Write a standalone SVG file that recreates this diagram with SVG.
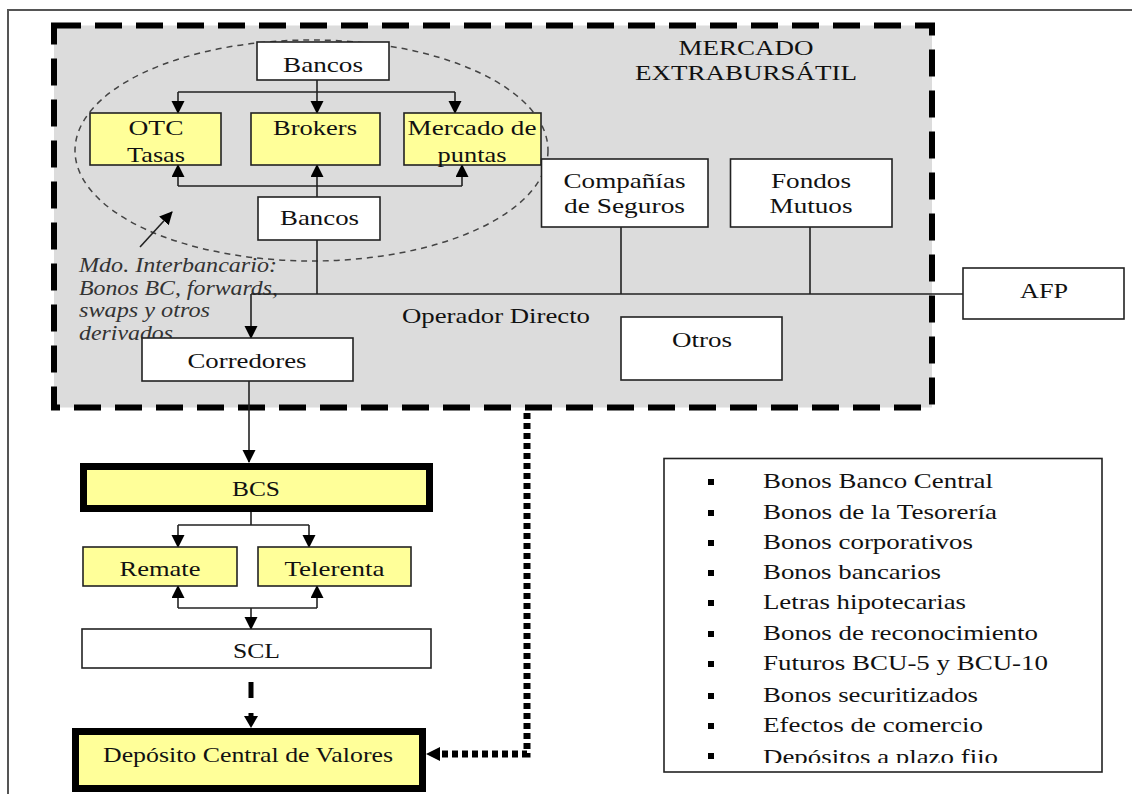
<svg xmlns="http://www.w3.org/2000/svg" width="1132" height="794" viewBox="0 0 1132 794">
<style>
text{font-family:"Liberation Serif","Times New Roman",serif;font-size:22px;fill:#111}
.c{text-anchor:middle}
.it{font-style:italic;fill:#333;font-size:21px}
.li{font-size:21px}
.box{fill:#fff;stroke:#222;stroke-width:1.6}
.yel{fill:#ffff99;stroke:#222;stroke-width:1.6}
.thick{fill:#ffff99;stroke:#000;stroke-width:7}
.ln{fill:none;stroke:#222;stroke-width:1.6}
.ar{fill:none;stroke:#222;stroke-width:1.6;marker-end:url(#ah)}
</style>
<defs>
<marker id="ah" markerUnits="userSpaceOnUse" markerWidth="14" markerHeight="14" refX="12" refY="6.5" orient="auto">
<path d="M0,0 L13,6.5 L0,13 z" fill="#000"/>
</marker>
<clipPath id="lastclip"><rect x="664" y="459" width="437" height="304"/></clipPath>
</defs>

<rect x="0" y="0" width="1132" height="794" fill="#fff"/>
<path d="M8,794 V10 H1132" fill="none" stroke="#555" stroke-width="2"/>

<g id="mercado-extrabursatil">
<rect x="54" y="25.5" width="878" height="382" fill="#dcdcdc" stroke="#000" stroke-width="6" stroke-dasharray="27,14"/>
<text class="c" x="746" y="55" textLength="135" lengthAdjust="spacingAndGlyphs">MERCADO</text>
<text class="c" x="746" y="80" textLength="222" lengthAdjust="spacingAndGlyphs">EXTRABURSÁTIL</text>
</g>

<g id="interbancario">
<ellipse cx="311.5" cy="150.5" rx="236.5" ry="110.5" fill="none" stroke="#444" stroke-width="1.5" stroke-dasharray="6,5"/>
<text class="it" x="79" y="272" textLength="198" lengthAdjust="spacingAndGlyphs">Mdo. Interbancario:</text>
<text class="it" x="79" y="295" textLength="199" lengthAdjust="spacingAndGlyphs">Bonos BC, forwards,</text>
<text class="it" x="79" y="317" textLength="131" lengthAdjust="spacingAndGlyphs">swaps y otros</text>
<text class="it" x="79" y="340" textLength="94" lengthAdjust="spacingAndGlyphs">derivados</text>
</g>

<g id="connectors">
<path class="ln" d="M317,80 V92 M178,92 H455"/>
<path class="ar" d="M178,92 V113"/>
<path class="ar" d="M317,92 V113"/>
<path class="ar" d="M455,92 V113"/>
<path class="ln" d="M178,186 H462"/>
<path class="ar" d="M178,186 V165"/>
<path class="ar" d="M462,186 V165"/>
<path class="ar" d="M317,197 V165"/>
<path class="ln" d="M317,240 V294 M251,294 H963 M621,227 V294 M810,227 V294"/>
<path class="ar" d="M251,294 V338"/>
<path class="ar" d="M249,381 V462"/>
<path class="ln" d="M251,512 V525 M178,525 H309"/>
<path class="ar" d="M178,525 V547"/>
<path class="ar" d="M309,525 V547"/>
<path class="ln" d="M178,608 H317"/>
<path class="ar" d="M178,608 V586"/>
<path class="ar" d="M317,608 V586"/>
<path class="ar" d="M251,608 V629"/>
<path class="ar" d="M140,247 L172,212"/>
<path d="M251,682 V698 M251,713 V718" stroke="#000" stroke-width="5" fill="none"/>
<path d="M244,716 L258,716 L251,728 z" fill="#000"/>
<path d="M527,413 V754 H440" fill="none" stroke="#000" stroke-width="7" stroke-dasharray="6,4"/>
<path d="M440,747 L440,761 L426,754 z" fill="#000"/>
</g>

<g id="bancos-top"><rect class="box" x="257" y="42" width="132" height="38"/><text class="c" x="323" y="72" textLength="80" lengthAdjust="spacingAndGlyphs">Bancos</text></g>
<g id="otc"><rect class="yel" x="90" y="113" width="131" height="52"/><text class="c" x="156" y="135" textLength="55" lengthAdjust="spacingAndGlyphs">OTC</text><text class="c" x="156" y="162" textLength="58" lengthAdjust="spacingAndGlyphs">Tasas</text></g>
<g id="brokers"><rect class="yel" x="251" y="113" width="129" height="52"/><text class="c" x="315" y="135" textLength="84" lengthAdjust="spacingAndGlyphs">Brokers</text></g>
<g id="mercado-puntas"><rect class="yel" x="404" y="113" width="137" height="52"/><text class="c" x="472" y="135" textLength="129" lengthAdjust="spacingAndGlyphs">Mercado de</text><text class="c" x="472" y="162" textLength="69" lengthAdjust="spacingAndGlyphs">puntas</text></g>
<g id="bancos-bottom"><rect class="box" x="258" y="197" width="122" height="43"/><text class="c" x="319.5" y="225" textLength="79" lengthAdjust="spacingAndGlyphs">Bancos</text></g>
<g id="companias"><rect class="box" x="541.5" y="159" width="166.5" height="68"/><text class="c" x="624.5" y="188" textLength="122" lengthAdjust="spacingAndGlyphs">Compañías</text><text class="c" x="624.5" y="213" textLength="121" lengthAdjust="spacingAndGlyphs">de Seguros</text></g>
<g id="fondos"><rect class="box" x="730.5" y="159" width="161.5" height="68"/><text class="c" x="811" y="188" textLength="80" lengthAdjust="spacingAndGlyphs">Fondos</text><text class="c" x="811" y="213" textLength="83" lengthAdjust="spacingAndGlyphs">Mutuos</text></g>
<g id="afp"><rect class="box" x="963" y="268" width="161" height="51"/><text class="c" x="1044" y="298" textLength="48" lengthAdjust="spacingAndGlyphs">AFP</text></g>
<g id="operador"><text class="c" x="496" y="323" textLength="188" lengthAdjust="spacingAndGlyphs">Operador Directo</text></g>
<g id="otros"><rect class="box" x="621" y="317" width="161" height="63"/><text class="c" x="702" y="347" textLength="60" lengthAdjust="spacingAndGlyphs">Otros</text></g>
<g id="corredores"><rect class="box" x="142" y="338" width="211" height="43"/><text class="c" x="247" y="368" textLength="119" lengthAdjust="spacingAndGlyphs">Corredores</text></g>
<g id="bcs"><rect class="thick" x="83.5" y="466.5" width="346" height="42"/><text class="c" x="256" y="496" textLength="48" lengthAdjust="spacingAndGlyphs">BCS</text></g>
<g id="remate"><rect class="yel" x="83" y="547" width="154" height="39"/><text class="c" x="160" y="576" textLength="81" lengthAdjust="spacingAndGlyphs">Remate</text></g>
<g id="telerenta"><rect class="yel" x="258" y="547" width="153" height="39"/><text class="c" x="334.5" y="576" textLength="100" lengthAdjust="spacingAndGlyphs">Telerenta</text></g>
<g id="scl"><rect class="box" x="82" y="629" width="349" height="39"/><text class="c" x="256.5" y="658" textLength="47" lengthAdjust="spacingAndGlyphs">SCL</text></g>
<g id="deposito"><rect class="thick" x="75.5" y="731.5" width="347" height="57"/><text class="c" x="248" y="762" textLength="290" lengthAdjust="spacingAndGlyphs">Depósito Central de Valores</text></g>

<g id="lista">
<rect x="664" y="458.5" width="438" height="313.5" fill="#fff" stroke="#222" stroke-width="1.6"/>
<g fill="#000">
<rect x="708" y="479" width="6" height="6"/><rect x="708" y="510" width="6" height="6"/><rect x="708" y="540" width="6" height="6"/><rect x="708" y="570" width="6" height="6"/><rect x="708" y="600" width="6" height="6"/><rect x="708" y="631" width="6" height="6"/><rect x="708" y="661" width="6" height="6"/><rect x="708" y="693" width="6" height="6"/><rect x="708" y="723" width="6" height="6"/><rect x="708" y="753" width="6" height="6"/>
</g>
<text class="li" x="763" y="488" textLength="230" lengthAdjust="spacingAndGlyphs">Bonos Banco Central</text>
<text class="li" x="763" y="519" textLength="234" lengthAdjust="spacingAndGlyphs">Bonos de la Tesorería</text>
<text class="li" x="763" y="549" textLength="210" lengthAdjust="spacingAndGlyphs">Bonos corporativos</text>
<text class="li" x="763" y="579" textLength="178" lengthAdjust="spacingAndGlyphs">Bonos bancarios</text>
<text class="li" x="763" y="609" textLength="203" lengthAdjust="spacingAndGlyphs">Letras hipotecarias</text>
<text class="li" x="763" y="640" textLength="275" lengthAdjust="spacingAndGlyphs">Bonos de reconocimiento</text>
<text class="li" x="763" y="670" textLength="285" lengthAdjust="spacingAndGlyphs">Futuros BCU-5 y BCU-10</text>
<text class="li" x="763" y="702" textLength="215" lengthAdjust="spacingAndGlyphs">Bonos securitizados</text>
<text class="li" x="763" y="732" textLength="220" lengthAdjust="spacingAndGlyphs">Efectos de comercio</text>
<text class="li" x="763" y="764" textLength="235" lengthAdjust="spacingAndGlyphs" clip-path="url(#lastclip)">Depósitos a plazo fijo</text>
</g>
</svg>
